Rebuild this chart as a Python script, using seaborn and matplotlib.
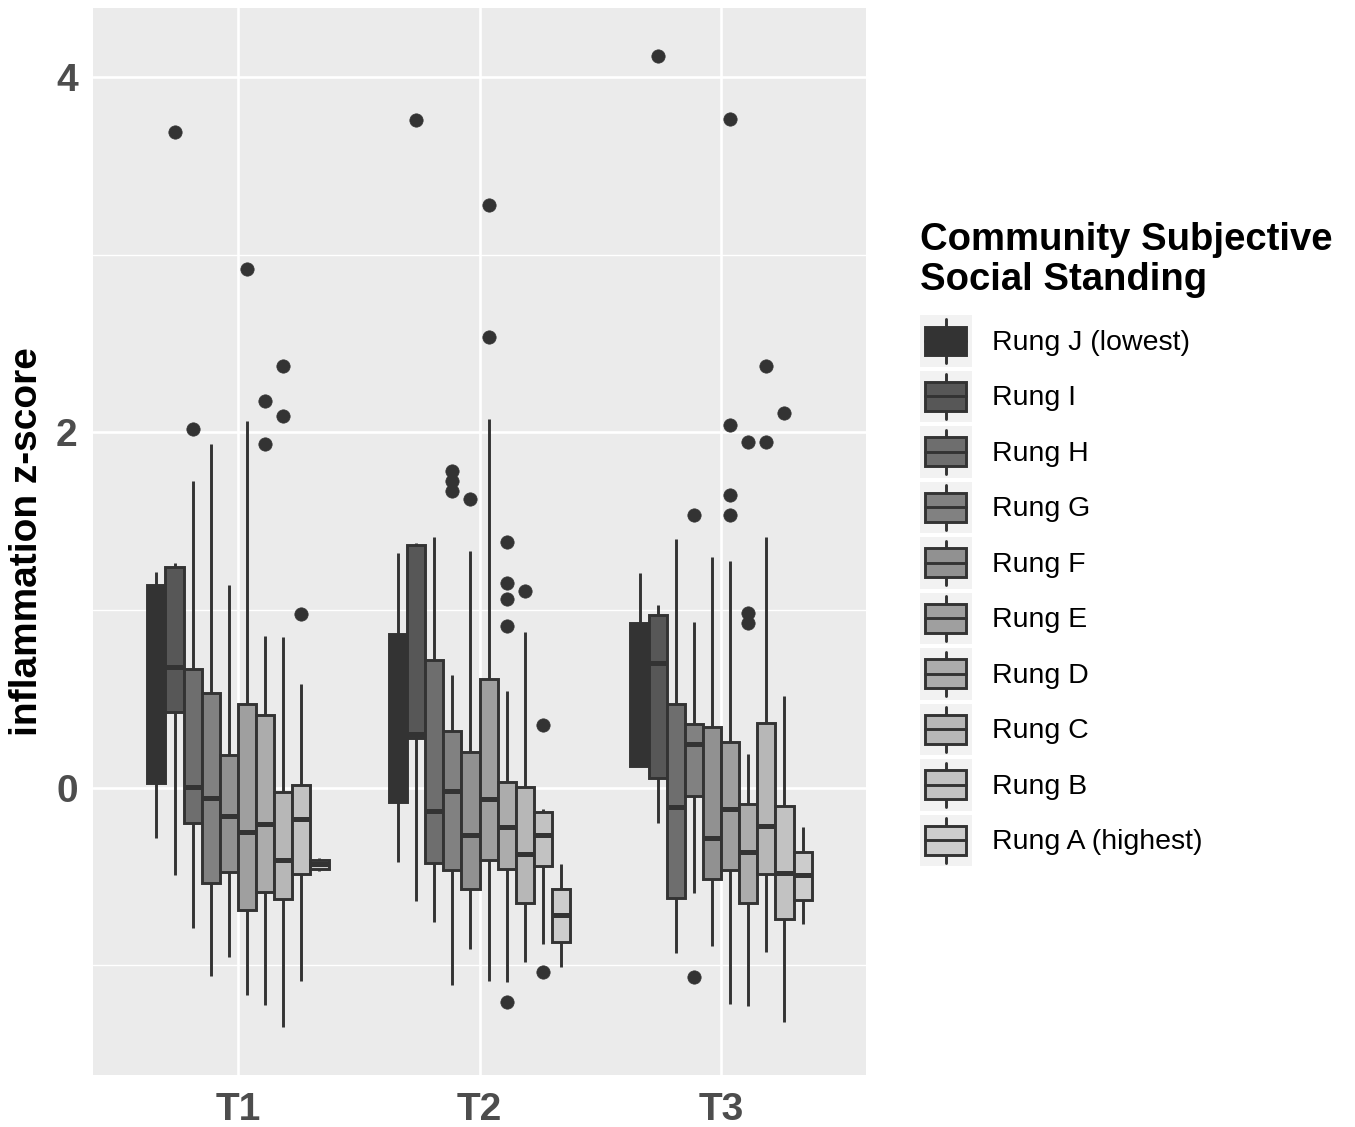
import numpy as np
import pandas as pd
import matplotlib
matplotlib.use("Agg")
import matplotlib.pyplot as plt
import seaborn as sns
from matplotlib.patches import Rectangle, Patch
from matplotlib.lines import Line2D
from matplotlib.legend_handler import HandlerBase
from matplotlib.ticker import FixedLocator

# ---------------- data ----------------
times = ["T1", "T2", "T3"]
rungs = ["Rung J (lowest)", "Rung I", "Rung H", "Rung G", "Rung F",
         "Rung E", "Rung D", "Rung C", "Rung B", "Rung A (highest)"]
rung_colors = ["#333333", "#575757", "#6E6E6E", "#818181", "#919191",
               "#9F9F9F", "#ACACAC", "#B7B7B7", "#C2C2C2", "#CCCCCC"]

# order within each list: J, I, H, G, F, E, D, C, B, A
t1_lo  = [-0.284, -0.494, -0.791, -1.060, -0.953, -1.168, -1.226, -1.345, -1.088, -0.468]
t1_q1  = [ 0.028,  0.427, -0.198, -0.537, -0.474, -0.690, -0.586, -0.629, -0.489, -0.457]
t1_med = [ 0.650,  0.681,  0.006, -0.058, -0.162, -0.252, -0.205, -0.407, -0.177, -0.431]
t1_q3  = [ 1.142,  1.241,  0.668,  0.534,  0.185,  0.470,  0.409, -0.022,  0.013, -0.409]
t1_hi  = [ 1.213,  1.263,  1.724,  1.935,  1.138,  2.066,  0.853,  0.847,  0.586, -0.397]
t1_out = [[], [3.69], [2.019], [], [], [2.921], [1.936, 2.178], [2.09, 2.371], [0.976], []]

t2_lo  = [-0.418, -0.636, -0.756, -1.111, -0.911, -1.089, -1.096, -0.984, -0.880, -1.011]
t2_q1  = [-0.080,  0.278, -0.422, -0.462, -0.573, -0.407, -0.458, -0.651, -0.440, -0.869]
t2_med = [ 0.450,  0.304, -0.133, -0.018, -0.269, -0.062, -0.222, -0.373, -0.269, -0.718]
t2_q3  = [ 0.864,  1.364,  0.720,  0.320,  0.200,  0.611,  0.033,  0.004, -0.136, -0.573]
t2_hi  = [ 1.320,  1.378,  1.409,  0.633,  1.331,  2.075,  0.542,  0.876, -0.122, -0.429]
t2_out = [[], [3.757], [], [1.669, 1.725, 1.781], [1.626], [2.538, 3.282],
          [0.911, 1.062, 1.150, 1.385, -1.205], [1.108], [0.353, -1.036], []]

t3_lo  = [ 0.121, -0.201, -0.929, -0.593, -0.894, -1.216, -1.230, -0.925, -1.317, -0.768]
t3_q1  = [ 0.121,  0.054, -0.619, -0.046, -0.513, -0.466, -0.649, -0.488, -0.740, -0.633]
t3_med = [ 0.550,  0.704, -0.111,  0.247, -0.281, -0.121, -0.362, -0.217, -0.482, -0.492]
t3_q3  = [ 0.925,  0.971,  0.472,  0.356,  0.342,  0.255, -0.090,  0.366, -0.105, -0.362]
t3_hi  = [ 1.206,  1.029,  1.401,  0.935,  1.296,  1.276,  0.191,  1.411,  0.513, -0.221]
t3_out = [[], [4.116], [], [1.533, -1.065], [], [1.533, 1.650, 2.041, 3.766],
          [0.925, 0.981, 1.944], [1.944, 2.374], [2.107], []]

stats_by_time = {
    "T1": (t1_lo, t1_q1, t1_med, t1_q3, t1_hi, t1_out),
    "T2": (t2_lo, t2_q1, t2_med, t2_q3, t2_hi, t2_out),
    "T3": (t3_lo, t3_q1, t3_med, t3_q3, t3_hi, t3_out),
}


def sample_from_stats(lo, q1, med, q3, hi, outs):
    """Smallest sorted sample whose quartiles/whiskers/outliers equal the read stats."""
    low = sorted(v for v in outs if v < q1)
    high = sorted(v for v in outs if v > q3)
    j, k = len(low), len(high)
    m = max(j, k) + 1
    n = 4 * m + 1
    vals = []
    for i in range(n):
        if i < j:
            vals.append(low[i])
        elif i == j:
            vals.append(lo)
        elif i <= m:
            vals.append(q1)
        elif i <= 3 * m - 1:
            vals.append(med)
        elif i < 4 * m - k:
            vals.append(q3)
        elif i == 4 * m - k:
            vals.append(hi)
        else:
            vals.append(high[i - (4 * m - k) - 1])
    return vals


rows = []
for t in times:
    lo, q1, med, q3, hi, outs = stats_by_time[t]
    for r_i, r in enumerate(rungs):
        for v in sample_from_stats(lo[r_i], q1[r_i], med[r_i], q3[r_i], hi[r_i], outs[r_i]):
            rows.append((t, r, v))
df = pd.DataFrame(rows, columns=["time", "rung", "z"])

# ---------------- style ----------------
LINE = "#333333"
LW = 2.1
sns.set_theme(style="darkgrid", rc={
    "axes.facecolor": "#EBEBEB",
    "grid.color": "white",
})
plt.rcParams["font.family"] = ["Liberation Sans", "DejaVu Sans"]

fig = plt.figure(figsize=(13.55, 11.27), dpi=100)
ax = fig.add_axes([93 / 1355, 52 / 1127, 773 / 1355, 1067 / 1127])

sns.boxplot(
    data=df, x="time", y="z", hue="rung", order=times, hue_order=rungs,
    palette=dict(zip(rungs, rung_colors)), saturation=1, width=0.75, gap=0,
    linecolor=LINE, linewidth=LW, showcaps=False, whis=1.5, fliersize=9.6,
    flierprops=dict(marker="o", markerfacecolor=LINE, markeredgecolor=LINE,
                    markeredgewidth=0.5),
    medianprops=dict(linewidth=3.6, color=LINE),
    legend=False, ax=ax,
)

ax.set_xlim(-0.6, 2.6)
ax.set_ylim(-1.618, 4.389)
ax.yaxis.set_major_locator(FixedLocator([0, 2, 4]))
ax.yaxis.set_minor_locator(FixedLocator([-1, 1, 3]))
ax.grid(which="major", color="white", linewidth=1.9)
ax.grid(which="minor", axis="y", color="white", linewidth=0.95)
ax.set_axisbelow(True)
for s in ax.spines.values():
    s.set_visible(False)

ax.tick_params(axis="both", which="major", length=6, width=1.5, color="#333333",
               labelsize=28, labelcolor="#4D4D4D")
ax.tick_params(axis="x", which="major", pad=6.5)
ax.tick_params(axis="y", which="major", pad=5)
ax.tick_params(which="minor", length=0)
for lab in ax.get_xticklabels() + ax.get_yticklabels():
    lab.set_fontweight("bold")

ax.set_xlabel("")
ax.set_ylabel("inflammation z-score", fontsize=28, fontweight="bold", color="black")
ax.yaxis.set_label_coords(-0.062, 0.5)


# ---------------- legend (ggplot-like box keys) ----------------
class BoxKey(HandlerBase):
    def create_artists(self, legend, orig_handle, xdescent, ydescent,
                       width, height, fontsize, trans):
        fc = orig_handle.get_facecolor()
        x0, y0 = -xdescent, -ydescent
        bg = Rectangle((x0, y0), width, height, facecolor="#F2F2F2",
                       edgecolor="none", transform=trans)
        wh = Line2D([x0 + width / 2] * 2, [y0 + 0.07 * height, y0 + 0.93 * height],
                    color=LINE, lw=LW, transform=trans)
        box = Rectangle((x0 + 0.1 * width, y0 + 0.22 * height), 0.8 * width,
                        0.56 * height, facecolor=fc, edgecolor=LINE, lw=LW,
                        transform=trans)
        med = Line2D([x0 + 0.1 * width, x0 + 0.9 * width], [y0 + 0.5 * height] * 2,
                     color=LINE, lw=LW, transform=trans)
        return [bg, wh, box, med]


handles = [Patch(facecolor=c, edgecolor=LINE) for c in rung_colors]
leg = fig.legend(
    handles, rungs, handler_map={Patch: BoxKey()},
    loc="upper left", bbox_to_anchor=(920 / 1355, 1 - 222 / 1127),
    bbox_transform=fig.transFigure, frameon=False, borderpad=0, borderaxespad=0,
    fontsize=20.5, handleheight=2.415, handlelength=1.812, labelspacing=0.134,
    handletextpad=0.70, alignment="left",
    title="Community Subjective\nSocial Standing",
    title_fontproperties=dict(weight="bold", size=27.5, family="Liberation Sans"),
)
leg.get_title().set_linespacing(1.16)
leg.get_title().set_color("black")
for txt in leg.get_texts():
    txt.set_color("black")
leg._legend_box.sep = 12

fig.savefig("out.png", dpi=100)
